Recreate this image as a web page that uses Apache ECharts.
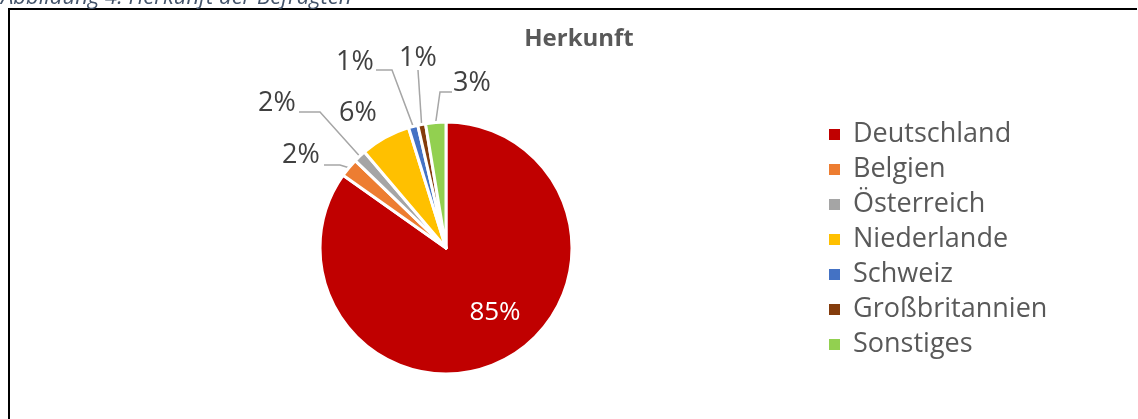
<!DOCTYPE html>
<html>
<head>
<meta charset="utf-8">
<script src="https://cdn.jsdelivr.net/npm/echarts@6/dist/echarts.min.js"></script>
<style>
  html, body { margin: 0; padding: 0; background: #fff; }
  #chart { width: 1138px; height: 419px; }
</style>
</head>
<body>
<div id="chart"></div>
<script>
// Herkunft der Befragten (Anteile in %)
var laender = ['Deutschland', 'Belgien', 'Österreich', 'Niederlande', 'Schweiz', 'Großbritannien', 'Sonstiges']
var anteile = [84.8, 2.4, 1.6, 6.4, 1.2, 1.0, 2.6]
var farben = ['#c00000', '#ed7d31', '#a5a5a5', '#ffc000', '#4472c4', '#843c0c', '#92d050']

// Lage der Beschriftungen (wie im Original verschoben) und Knicke der Führungslinien
var labelSpots = [
    { x: 495, y: 313 },
    { x: 301, y: 155, line: [[340, 165], [324, 165]] },
    { x: 277, y: 103, line: [[320, 112], [299, 112]] },
    { x: 358, y: 113 },
    { x: 355, y: 62, line: [[392, 70], [376, 70]] },
    { x: 418, y: 58, line: [[418, 70]] },
    { x: 472, y: 83, line: [[440, 92], [452, 92]] }
]

var chart = echarts.init(document.getElementById('chart'))

var data = laender.map(function(name, i) {
    var item = { name: name, value: anteile[i], itemStyle: { color: farben[i] } }
    if (i === 0) {
        item.label = { position: 'inside', color: '#ffffff', fontSize: 26 }
    }
    if (i === 3) {
        item.labelLine = { show: false }
    }
    return item
})

chart.setOption({
    animation: false,
    title: {
        text: 'Herkunft',
        left: 574,
        top: 22,
        textAlign: 'center',
        textStyle: {
            fontFamily: 'Open Sans',
            fontWeight: 'bold',
            fontSize: 24,
            color: '#595959'
        }
    },
    legend: {
        orient: 'vertical',
        left: 827,
        top: 121,
        padding: 0,
        itemWidth: 13,
        itemHeight: 13,
        itemGap: 8,
        icon: 'rect',
        selectedMode: false,
        data: laender,
        textStyle: {
            fontFamily: 'Open Sans',
            fontSize: 27,
            lineHeight: 25,
            color: '#595959',
            padding: [0, 0, 0, 7]
        }
    },
    graphic: [
        {
            type: 'polyline',
            shape: { points: [[9, 419], [9, 9], [1137, 9]] },
            style: { stroke: '#000', lineWidth: 2, fill: null }
        },
        {
            type: 'text',
            style: {
                x: 1,
                y: -2,
                verticalAlign: 'middle',
                text: 'Abbildung 4: Herkunft der Befragten',
                fontFamily: 'Open Sans',
                fontStyle: 'italic',
                fontSize: 22,
                fill: '#44546a'
            }
        }
    ],
    series: [{
        type: 'pie',
        center: [446, 248],
        radius: 126,
        startAngle: 90,
        clockwise: true,
        percentPrecision: 0,
        avoidLabelOverlap: false,
        emphasis: { disabled: true },
        itemStyle: { borderColor: '#ffffff', borderWidth: 3 },
        label: {
            show: true,
            formatter: '{d}%',
            fontFamily: 'Open Sans',
            fontSize: 27,
            color: '#404040'
        },
        labelLine: {
            show: true,
            length: 10,
            length2: 10,
            lineStyle: { color: '#a6a6a6', width: 1.5 }
        },
        labelLayout: function(params) {
            var spot = labelSpots[params.dataIndex]
            var out = { x: spot.x, y: spot.y, align: 'center', verticalAlign: 'middle' }
            if (spot.line && params.labelLinePoints) {
                out.labelLinePoints = [params.labelLinePoints[0]].concat(spot.line)
            }
            return out
        },
        data: data
    }]
})
</script>
</body>
</html>
